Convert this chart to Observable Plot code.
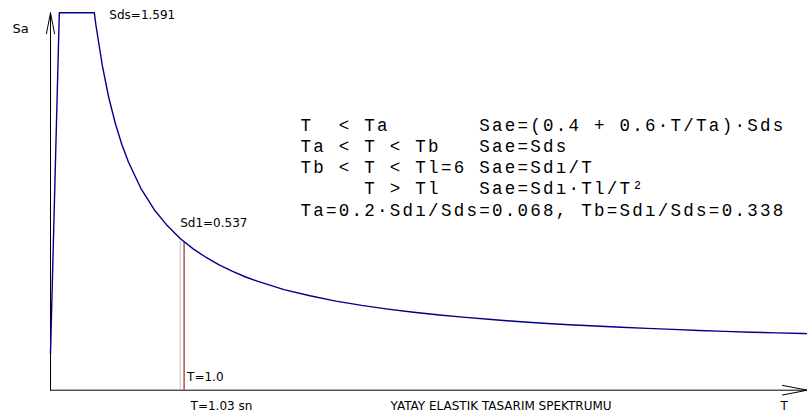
<!DOCTYPE html>
<html>
<head>
<meta charset="utf-8">
<script src="https://cdn.jsdelivr.net/npm/d3@7"></script>
<script src="https://cdn.jsdelivr.net/npm/@observablehq/plot@0.6"></script>
<style>
  html, body { margin: 0; padding: 0; background: #fff; overflow: hidden; }
  #chart svg { display: block; overflow: hidden; }
  #chart g[font-family="Liberation Mono"] { letter-spacing: 2.26px; }
</style>
</head>
<body>
<div id="chart"></div>
<script>
// Spectrum parameters
const Sds = 1.591;
const Sd1 = 0.537;
const Ta = 0.068;
const Tb = 0.338;
const Tsel = 1.0;     // gray line
const Tn = 1.03;      // red line (T=1.03 sn)
const SaTsel = 0.537;
const SaTn = 0.521;

// Curve samples: period T (s) and spectral acceleration Sa
const periods = [0, 0.068, 0.338, 0.35, 0.40, 0.45, 0.50, 0.55, 0.60, 0.70, 0.80, 0.90, 1.00,
  1.10, 1.20, 1.30, 1.40, 1.50, 1.60, 1.80, 2.00, 2.20, 2.40, 2.60, 2.80, 3.00, 3.20, 3.40,
  3.60, 3.80, 4.00, 4.20, 4.40, 4.60, 4.80, 5.00, 5.20, 5.40, 5.60, 5.80, 6.00];
const saValues = [0, 1.591, 1.591, 1.534, 1.343, 1.193, 1.074, 0.976, 0.895, 0.767, 0.671, 0.597, 0.537,
  0.488, 0.448, 0.413, 0.384, 0.358, 0.336, 0.298, 0.269, 0.244, 0.224, 0.207, 0.192, 0.179, 0.168, 0.158,
  0.149, 0.141, 0.134, 0.128, 0.122, 0.117, 0.112, 0.107, 0.103, 0.099, 0.096, 0.093, 0.090];

// Axis extents
const axisSaBottom = -0.172;
const axisSaTop = 1.591;
const axisTEnd = 5.835;

// Text
const formulaLines = [
  "T  < Ta       Sae=(0.4 + 0.6\u00B7T/Ta)\u00B7Sds",
  "Ta < T < Tb   Sae=Sds",
  "Tb < T < Tl=6 Sae=Sd\u0131/T",
  "     T > Tl   Sae=Sd\u0131\u00B7Tl/T\u00B2",
  "Ta=0.2\u00B7Sd\u0131/Sds=0.068, Tb=Sd\u0131/Sds=0.338"
];
const titleText = "YATAY ELASTIK TASARIM SPEKTRUMU";

const curve = periods.map((t, i) => ({T: t, Sa: saValues[i]}));
const formulaText = formulaLines.map(s => s.replace(/ /g, "\u00A0")).join("\n");

const sans = "DejaVu Sans";
const monoSize = 17.5;
const plot = Plot.plot({
  width: 807,
  height: 416,
  margin: 0,
  style: {background: "#fff", fontFamily: sans},
  x: {domain: [0, 6], range: [50, 828.2], axis: null},
  y: {domain: [axisSaBottom, Sds], range: [389.7, 12.3], axis: null},
  marks: [
    // axes with arrowheads
    Plot.arrow([{x1: 0, y1: axisSaBottom, x2: 0, y2: axisSaTop}], {
      x1: "x1", y1: "y1", x2: "x2", y2: "y2", stroke: "#000", strokeWidth: 1,
      headLength: 32, headAngle: 22
    }),
    Plot.arrow([{x1: 0, y1: axisSaBottom, x2: axisTEnd, y2: axisSaBottom}], {
      x1: "x1", y1: "y1", x2: "x2", y2: "y2", stroke: "#000", strokeWidth: 1,
      headLength: 38, headAngle: 22
    }),
    // period lines
    Plot.ruleX([{T: Tsel, Sa: SaTsel}], {x: "T", y1: "Sa", y2: axisSaBottom, stroke: "#c4c4c4", strokeWidth: 1}),
    Plot.ruleX([{T: Tn, Sa: SaTn}], {x: "T", y1: "Sa", y2: axisSaBottom, stroke: "#7a0000", strokeWidth: 1}),
    // spectrum curve
    Plot.line(curve, {x: "T", y: "Sa", stroke: "#00008b", strokeWidth: 1.4, clip: true}),
    // labels
    Plot.text(["Sa"], {frameAnchor: "top-left", dx: 12, dy: 28.5, text: d => d, textAnchor: "start", lineAnchor: "middle", fontSize: 13, fill: "#000"}),
    Plot.text([{T: Tb, Sa: Sds}], {x: "T", y: "Sa", text: () => "Sds=" + Sds.toFixed(3), dx: 15, dy: 2, textAnchor: "start", fontSize: 12, fill: "#000"}),
    Plot.text([{T: Tsel, Sa: SaTsel}], {x: "T", y: "Sa", text: () => "Sd1=" + Sd1.toFixed(3), dx: 0, dy: -15, textAnchor: "start", fontSize: 12, fill: "#000"}),
    Plot.text([{T: Tn, Sa: axisSaBottom}], {x: "T", y: "Sa", text: () => "T=" + Tsel.toFixed(1), dx: 3, dy: -13, textAnchor: "start", fontSize: 12, fill: "#000"}),
    Plot.text([{T: Tn, Sa: axisSaBottom}], {x: "T", y: "Sa", text: () => "T=" + Tn.toFixed(2) + " sn", dx: 6.5, dy: 16, textAnchor: "start", fontSize: 12, fill: "#000"}),
    Plot.text([titleText], {frameAnchor: "bottom-left", text: d => d, dx: 390, dy: -10.5, textAnchor: "start", lineAnchor: "middle", fontSize: 12, fill: "#000"}),
    Plot.text(["T"], {frameAnchor: "bottom-right", text: d => d, dx: -27, dy: -10.5, textAnchor: "start", lineAnchor: "middle", fontSize: 12, fill: "#000"}),
    Plot.text([formulaText], {frameAnchor: "top-left", text: d => d, dx: 300, dy: 114.9, textAnchor: "start", lineAnchor: "top", lineHeight: 21.3 / monoSize, fontSize: monoSize, fontFamily: "Liberation Mono", fill: "#000"})
  ]
});
document.getElementById("chart").appendChild(plot);
</script>
</body>
</html>
